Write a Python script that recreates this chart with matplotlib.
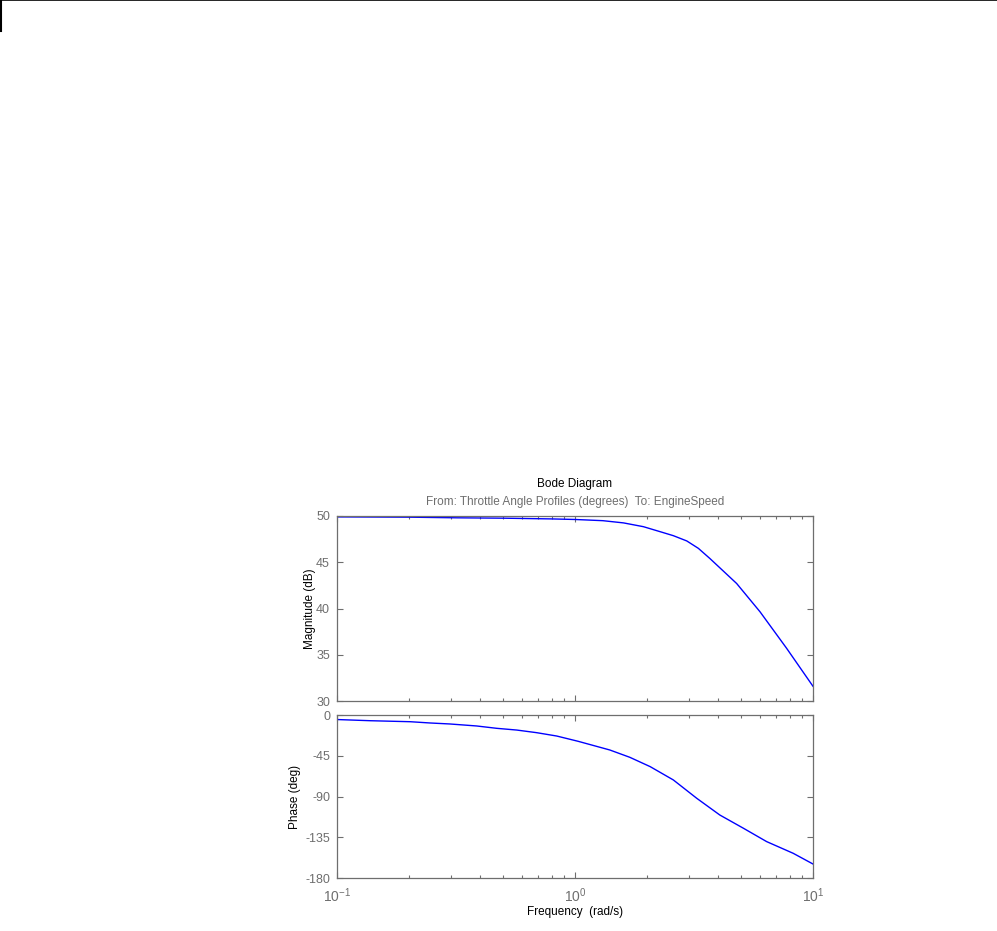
import matplotlib
matplotlib.use('Agg')
import matplotlib.pyplot as plt
from matplotlib.lines import Line2D
from matplotlib.ticker import LogLocator, FixedLocator

plt.rcParams['font.family'] = ['Liberation Sans', 'DejaVu Sans']
plt.rcParams['font.size'] = 8
plt.rcParams['axes.unicode_minus'] = False

# Bode data
mag_freq = [0.1, 0.2, 0.32, 0.5, 0.8, 1.0, 1.31, 1.6, 1.94, 2.28, 2.59, 2.95, 3.3, 3.69, 4.78, 5.99, 7.75, 10.0]
mag_db = [49.9, 49.87, 49.8, 49.76, 49.68, 49.62, 49.49, 49.25, 48.84, 48.3, 47.87, 47.3, 46.5,
          45.4, 42.7, 39.65, 35.7, 31.6]

ph_freq = [0.1, 0.138, 0.203, 0.246, 0.298, 0.386, 0.469, 0.569, 0.69, 0.838, 1.03,
           1.4, 1.7, 2.07, 2.59, 3.25, 4.06, 5.1, 6.39, 8.26, 10.0]
ph_deg = [-5.0, -6.3, -7.4, -8.8, -9.9, -12.1, -14.7, -16.6, -19.5, -23.2, -29.0,
          -38.6, -46.7, -57.0, -71.7, -92.0, -110.4, -125.0, -139.8, -152.7, -164.5]

gray = '#6e6e6e'
fig = plt.figure(figsize=(9.97, 9.31), dpi=100)

ax1 = fig.add_axes([0.338, 0.2470, 0.4774, 0.1988])
ax2 = fig.add_axes([0.338, 0.0569, 0.4774, 0.1751])

ax1.plot(mag_freq, mag_db, color='#0000ff', lw=1)
ax2.plot(ph_freq, ph_deg, color='#0000ff', lw=1)

for ax in (ax1, ax2):
    ax.set_xscale('log')
    ax.set_xlim(0.1, 10)
    ax.xaxis.set_major_locator(LogLocator(base=10, numticks=10))
    ax.xaxis.set_minor_locator(LogLocator(base=10, subs=range(2, 10), numticks=10))
    ax.tick_params(which='both', direction='in', top=True, right=True, colors=gray,
                   labelcolor=gray, labelsize=9)
    ax.tick_params(which='major', length=4, width=0.8, pad=5)
    ax.tick_params(which='minor', length=2.5, width=0.8)
    for s in ax.spines.values():
        s.set_color(gray)
        s.set_linewidth(0.9)

ax1.set_ylim(30, 50)
ax1.yaxis.set_major_locator(FixedLocator([30, 35, 40, 45, 50]))
ax1.tick_params(labelbottom=False)
ax1.set_ylabel('Magnitude (dB)', color='black', fontsize=8.5, labelpad=0)

ax2.set_ylim(-180, 0)
ax2.yaxis.set_major_locator(FixedLocator([-180, -135, -90, -45, 0]))
ax2.tick_params(axis='x', which='major', pad=6, labelsize=10)
ax2.set_ylabel('Phase (deg)', color='black', fontsize=8.5, labelpad=3)
ax2.set_xlabel('Frequency  (rad/s)', color='black', fontsize=8.5, labelpad=1)

fig.text(0.5767, 1 - 484 / 931, 'Bode Diagram', ha='center', va='center', fontsize=8.5, color='black')
fig.text(0.5767, 1 - 502 / 931, 'From: Throttle Angle Profiles (degrees)  To: EngineSpeed',
         ha='center', va='center', fontsize=8.5, color=gray)

# frame remnant at the top left of the page
fig.add_artist(Line2D([0, 1], [0.9995, 0.9995], color='black', lw=1.2, transform=fig.transFigure))
fig.add_artist(Line2D([0.0015, 0.0015], [1, 1 - 31 / 931], color='black', lw=1.5, transform=fig.transFigure))

fig.savefig('out.png', dpi=100)
